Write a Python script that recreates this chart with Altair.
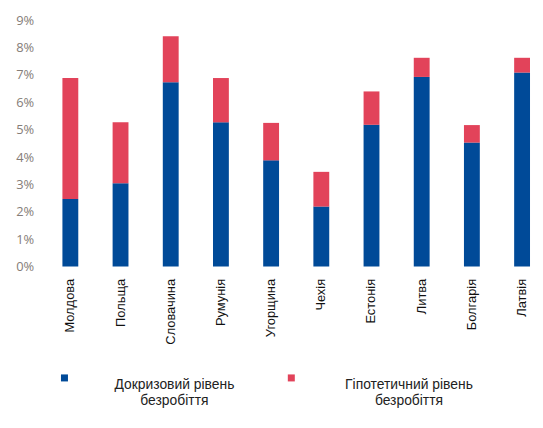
import altair as alt
import pandas as pd

countries = ["Молдова", "Польща", "Словачина", "Румунія", "Угорщина",
             "Чехія", "Естонія", "Литва", "Болгарія", "Латвія"]
precrisis = [2.47, 3.04, 6.74, 5.27, 3.88, 2.19, 5.18, 6.93, 4.53, 7.09]
hypothetical = [6.89, 5.27, 8.42, 6.89, 5.25, 3.46, 6.40, 7.63, 5.17, 7.63]
series = ["Докризовий рівень безробіття", "Гіпотетичний рівень безробіття"]
colors = ["#004a98", "#e2435a"]
y_ticks = [0, 1, 2, 3, 4, 5, 6, 7, 8, 9]

rows = []
for c, p, h in zip(countries, precrisis, hypothetical):
    rows.append({"country": c, "series": series[0], "start": 0.0, "end": p / 100})
    rows.append({"country": c, "series": series[1], "start": p / 100, "end": h / 100})
df = pd.DataFrame(rows)

pad = "\u200b" + "\u00a0" * 4
label_expr = (
    "datum.index == 1 ? "
    f"['{pad}Гіпотетичний рівень', '{pad}безробіття'] : "
    "['Докризовий рівень', 'безробіття']"
)

chart = alt.Chart(df).mark_bar().encode(
    x=alt.X("country:N", sort=countries, title=None,
            scale=alt.Scale(paddingInner=0.684, paddingOuter=0.276, align=0.82),
            axis=alt.Axis(labelAngle=-90, ticks=False, domain=False, labelPadding=12,
                          labelFont="Liberation Sans", labelFontSize=13,
                          labelColor="#111111", labelLimit=200)),
    y=alt.Y("start:Q", title=None,
            scale=alt.Scale(domain=[0, 0.09], nice=False),
            axis=alt.Axis(values=[v / 100 for v in y_ticks], format=".0%", grid=False,
                          ticks=False, domain=False, labelPadding=6,
                          labelFont="Open Sans", labelFontSize=13, labelColor="#857d78")),
    y2="end:Q",
    color=alt.Color("series:N", sort=series,
                    scale=alt.Scale(domain=series, range=colors),
                    legend=alt.Legend(title=None, orient="none", direction="horizontal",
                                      legendX=18, legendY=354, padding=0,
                                      symbolType="square", symbolSize=50,
                                      symbolStrokeWidth=0,
                                      labelExpr=label_expr,
                                      labelAlign="center", labelBaseline="top",
                                      labelOffset=104, columnPadding=50,
                                      labelFont="Liberation Sans", labelFontSize=14,
                                      labelColor="#222222", labelLimit=600)),
).properties(
    width=500, height=248.5,
    autosize=alt.AutoSizeParams(type="none"),
    padding={"left": 32, "top": 10.5, "right": 0, "bottom": 150},
).configure_view(stroke=None)

chart.save("out.html", embed_options={"renderer": "svg", "actions": False})
